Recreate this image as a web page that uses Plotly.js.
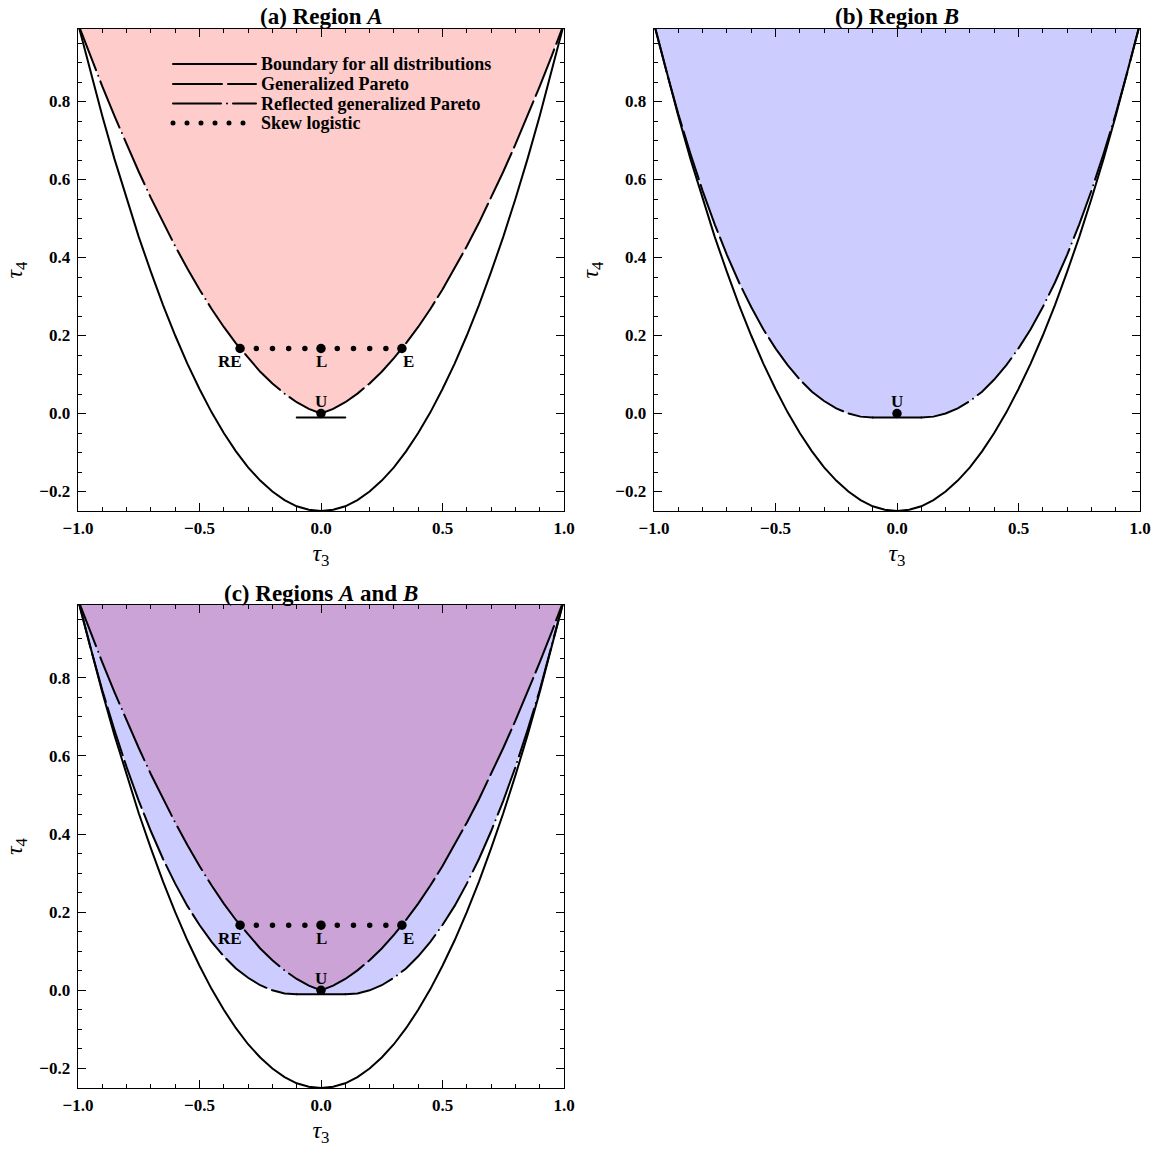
<!DOCTYPE html>
<html>
<head>
<meta charset="utf-8">
<script src="https://cdn.plot.ly/plotly-3.0.1.min.js"></script>
<style>
html, body { margin: 0; padding: 0; background: #fff; }
#chart { width: 1156px; height: 1149px; }
.js-line { stroke-linecap: round; }
.shapelayer path { stroke-linecap: round; }
</style>
</head>
<body>
<div id="chart"></div>
<script>
// ---- data ----
const tau3 = [-1,-0.95,-0.9,-0.85,-0.8,-0.75,-0.7,-0.65,-0.6,-0.55,-0.5,-0.45,-0.4,-0.35,-0.3,-0.25,-0.2,-0.15,-0.1,-0.05,0,
              0.05,0.1,0.15,0.2,0.25,0.3,0.35,0.4,0.45,0.5,0.55,0.6,0.65,0.7,0.75,0.8,0.85,0.9,0.95,1];
const boundaryT4 = [1.0,0.878,0.763,0.653,0.55,0.453,0.363,0.278,0.2,0.128,0.063,0.003,-0.05,-0.097,-0.138,-0.172,-0.2,-0.222,-0.238,-0.247,-0.25,
                    -0.247,-0.238,-0.222,-0.2,-0.172,-0.138,-0.097,-0.05,0.003,0.063,0.128,0.2,0.278,0.363,0.453,0.55,0.653,0.763,0.878,1.0];
const gparetoT4 = [1.0,0.880,0.768,0.666,0.571,0.485,0.407,0.336,0.273,0.216,0.167,0.124,0.087,0.056,0.032,0.013,0.0,-0.008,-0.010,-0.008,0,
                   0.012,0.029,0.051,0.077,0.107,0.142,0.180,0.222,0.268,0.318,0.372,0.429,0.489,0.553,0.620,0.690,0.763,0.839,0.918,1.0];
const reflGparetoT4 = [1.0,0.918,0.839,0.763,0.690,0.620,0.553,0.489,0.429,0.372,0.318,0.268,0.222,0.180,0.142,0.107,0.077,0.051,0.029,0.012,0,
                       -0.008,-0.010,-0.008,0.0,0.013,0.032,0.056,0.087,0.124,0.167,0.216,0.273,0.336,0.407,0.485,0.571,0.666,0.768,0.880,1.0];
const flatT3 = [-0.1, 0.1];
const flatT4 = [-0.010, -0.010];
const skewT3 = [-0.333,-0.267,-0.2,-0.133,-0.067,0,0.067,0.133,0.2,0.267,0.333];
const skewT4 = [0.1667,0.1667,0.1667,0.1667,0.1667,0.1667,0.1667,0.1667,0.1667,0.1667,0.1667];
const pointNames = ['RE','L','E','U'];
const pointT3 = [-0.333, 0, 0.333, 0];
const pointT4 = [0.1667, 0.1667, 0.1667, 0];
const panelTitles = ['<b>(a) Region <i>A</i></b>', '<b>(b) Region <i>B</i></b>', '<b>(c) Regions <i>A</i> and <i>B</i></b>'];
const legendNames = ['Boundary for all distributions','Generalized Pareto','Reflected generalized Pareto','Skew logistic'];

// ---- derived series ----
function seg(xs, ys, lo, hi) {
  const x = [], y = [];
  xs.forEach((v, i) => { if (v >= lo - 1e-9 && v <= hi + 1e-9) { x.push(v); y.push(ys[i]); } });
  return {x, y};
}
const upperA = tau3.map((t, i) => Math.max(gparetoT4[i], reflGparetoT4[i]));
const lowerB = tau3.map((t, i) => t <= flatT3[0] ? gparetoT4[i] : (t >= flatT3[1] ? reflGparetoT4[i] : flatT4[0]));

const PINK = '#ffcccc', BLUE = '#ccccff', PURPLE = '#cca3d6';
const FONT = 'Liberation Serif, Times New Roman, serif';
const DASH_SOLID = 'solid';
const DASH_GP = '50px,6px';
const DASH_RGP = '50px,6px,0px,6px';
const DASH_SKEW = '0px,16.2px';
const legendDashes = [DASH_SOLID, '49px,6px', '48px,6px,0px,6px', '0px,14px'];
const legendWidths = [2, 2, 2, 5];

const traces = [];
function axes(p) { return p === 1 ? {xaxis:'x', yaxis:'y'} : {xaxis:'x'+p, yaxis:'y'+p}; }
function fillTrace(p, y, color) {
  return Object.assign({x: tau3, y: y, mode: 'lines', fill: 'toself', fillcolor: color,
    line: {width: 0}, hoverinfo: 'skip', showlegend: false}, axes(p));
}
function lineTrace(p, d, dash, name, width) {
  return Object.assign({x: d.x, y: d.y, mode: 'lines', name: name || '', showlegend: false,
    line: {color: 'black', width: width || 2, dash: dash}, hoverinfo: 'skip'}, axes(p));
}

// panel (a)
traces.push(fillTrace(1, upperA, PINK));
traces.push(lineTrace(1, {x: tau3, y: boundaryT4}, DASH_SOLID, legendNames[0]));
traces.push(lineTrace(1, seg(tau3, reflGparetoT4, -1, 0), DASH_RGP, legendNames[2]));
traces.push(lineTrace(1, seg(tau3, gparetoT4, 0, 1), DASH_GP, legendNames[1]));
traces.push(lineTrace(1, {x: flatT3, y: flatT4}, DASH_SOLID));
traces.push(lineTrace(1, {x: skewT3, y: skewT4}, DASH_SKEW, legendNames[3], 5.5));

// panel (b)
traces.push(fillTrace(2, lowerB, BLUE));
traces.push(lineTrace(2, {x: tau3, y: boundaryT4}, DASH_SOLID, legendNames[0]));
traces.push(lineTrace(2, seg(tau3, gparetoT4, -1, flatT3[0]), DASH_GP, legendNames[1]));
traces.push(lineTrace(2, {x: flatT3, y: flatT4}, DASH_SOLID));
traces.push(lineTrace(2, seg(tau3, reflGparetoT4, flatT3[1], 1), DASH_RGP, legendNames[2]));

// panel (c)
traces.push(fillTrace(3, lowerB, BLUE));
traces.push(fillTrace(3, upperA, PURPLE));
traces.push(lineTrace(3, {x: tau3, y: boundaryT4}, DASH_SOLID, legendNames[0]));
traces.push(lineTrace(3, seg(tau3, gparetoT4, -1, flatT3[0]), DASH_GP, legendNames[1]));
traces.push(lineTrace(3, {x: flatT3, y: flatT4}, DASH_SOLID));
traces.push(lineTrace(3, seg(tau3, reflGparetoT4, flatT3[1], 1), DASH_RGP, legendNames[2]));
traces.push(lineTrace(3, seg(tau3, reflGparetoT4, -1, 0), DASH_RGP, legendNames[2]));
traces.push(lineTrace(3, seg(tau3, gparetoT4, 0, 1), DASH_GP, legendNames[1]));
traces.push(lineTrace(3, {x: skewT3, y: skewT4}, DASH_SKEW, legendNames[3], 5.5));

// points
function pointsTrace(p, idx) {
  return Object.assign({
    x: idx.map(i => pointT3[i]), y: idx.map(i => pointT4[i]), text: idx.map(i => pointNames[i]),
    mode: 'markers', marker: {color: 'black', size: 9.5}, showlegend: false, hoverinfo: 'skip', cliponaxis: false
  }, axes(p));
}
traces.push(pointsTrace(1, [0,1,2,3]));
traces.push(pointsTrace(2, [3]));
traces.push(pointsTrace(3, [0,1,2,3]));

// ---- layout ----
const W = 1156, H = 1149;
function xax(l, r) {
  return {
    domain: [l / W, r / W], range: [-1, 1], dtick: 0.5, tick0: 0, tickformat: '.1f',
    ticks: 'inside', ticklen: 8, tickwidth: 1, tickcolor: 'black',
    minor: {ticks: 'inside', ticklen: 4, dtick: 0.1, tickcolor: 'black', tickwidth: 1},
    showline: true, linecolor: 'black', linewidth: 1.3, mirror: 'ticks',
    showgrid: false, zeroline: false, fixedrange: true, ticklabelstandoff: 1,
    tickfont: {family: FONT, size: 17, weight: 'bold', color: 'black'},
    title: {text: '<i>τ</i><sub>3</sub>', font: {family: FONT, size: 24, color: 'black'}, standoff: 7}
  };
}
function yax(top, bottom) {
  return {
    domain: [1 - bottom / H, 1 - top / H], range: [-0.25, 0.986], dtick: 0.2, tick0: 0, tickformat: '.1f',
    ticks: 'inside', ticklen: 8, tickwidth: 1, tickcolor: 'black',
    minor: {ticks: 'inside', ticklen: 4, dtick: 0.05, tickcolor: 'black', tickwidth: 1},
    showline: true, linecolor: 'black', linewidth: 1.3, mirror: 'ticks',
    showgrid: false, zeroline: false, fixedrange: true, ticklabelstandoff: 3,
    tickfont: {family: FONT, size: 17, weight: 'bold', color: 'black'},
    title: {text: '<i>τ</i><sub>4</sub>', font: {family: FONT, size: 24, color: 'black'}, standoff: 10}
  };
}

const annotations = [];
const titlePos = [[321, 16], [897, 16], [321, 593]];
panelTitles.forEach((t, i) => annotations.push({
  text: t, x: titlePos[i][0] / W, y: 1 - titlePos[i][1] / H, xref: 'paper', yref: 'paper',
  xanchor: 'center', yanchor: 'middle', showarrow: false, font: {family: FONT, size: 23, color: 'black'}
}));
// point labels
const labelShift = [[-10, -13], [0, -13], [7, -13], [0, 12]];
function pointLabels(p, idx) {
  const ax = p === 1 ? ['x', 'y'] : ['x' + p, 'y' + p];
  idx.forEach(i => annotations.push({
    text: '<b>' + pointNames[i] + '</b>', x: pointT3[i], y: pointT4[i], xref: ax[0], yref: ax[1],
    xanchor: 'center', yanchor: 'middle', xshift: labelShift[i][0], yshift: labelShift[i][1],
    showarrow: false, font: {family: FONT, size: 17, color: 'black'}
  }));
}
pointLabels(1, [0,1,2,3]);
pointLabels(2, [3]);
pointLabels(3, [0,1,2,3]);

// legend (panel a)
const shapes = [];
const legendRowsY = [64, 84, 103.5, 123];
legendNames.forEach((name, i) => {
  shapes.push({type: 'line', xref: 'paper', yref: 'paper', x0: 173 / W, x1: 256 / W,
    y0: 1 - legendRowsY[i] / H, y1: 1 - legendRowsY[i] / H,
    line: {color: 'black', width: legendWidths[i], dash: legendDashes[i]}});
  annotations.push({text: '<b>' + name + '</b>', x: 259 / W, y: 1 - legendRowsY[i] / H, xref: 'paper', yref: 'paper',
    xanchor: 'left', yanchor: 'middle', showarrow: false, font: {family: FONT, size: 18, color: 'black'}});
});

const layout = {
  width: W, height: H, margin: {l: 0, r: 0, t: 0, b: 0},
  paper_bgcolor: 'white', plot_bgcolor: 'white',
  font: {family: FONT, color: 'black'},
  showlegend: false,
  xaxis: Object.assign(xax(78, 564), {anchor: 'y'}),
  yaxis: Object.assign(yax(29, 511), {anchor: 'x'}),
  xaxis2: Object.assign(xax(654, 1140), {anchor: 'y2'}),
  yaxis2: Object.assign(yax(29, 511), {anchor: 'x2'}),
  xaxis3: Object.assign(xax(78, 564), {anchor: 'y3'}),
  yaxis3: Object.assign(yax(605, 1088), {anchor: 'x3'}),
  annotations: annotations,
  shapes: shapes
};
Plotly.newPlot('chart', traces, layout, {staticPlot: true, displayModeBar: false});
</script>
</body>
</html>
